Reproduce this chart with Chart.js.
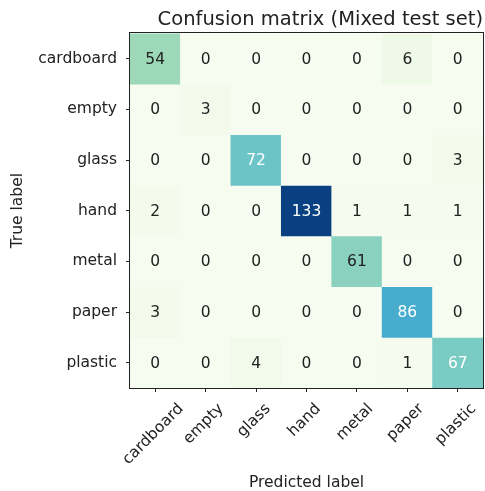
<!DOCTYPE html>
<html>
<head>
<meta charset="utf-8">
<script src="https://cdn.jsdelivr.net/npm/chart.js@4"></script>
<style>
    html, body { margin: 0; padding: 0; background: #ffffff; }
    canvas { display: block; }
</style>
</head>
<body>
<canvas id="cm" width="485" height="491"></canvas>
<script>
const classes = ['cardboard', 'empty', 'glass', 'hand', 'metal', 'paper', 'plastic'];

// one row per true label, columns are the predicted labels
const cardboardRow = [54, 0, 0, 0, 0, 6, 0];
const emptyRow = [0, 3, 0, 0, 0, 0, 0];
const glassRow = [0, 0, 72, 0, 0, 0, 3];
const handRow = [2, 0, 0, 133, 1, 1, 1];
const metalRow = [0, 0, 0, 0, 61, 0, 0];
const paperRow = [3, 0, 0, 0, 0, 86, 0];
const plasticRow = [0, 0, 4, 0, 0, 1, 67];

const rows = [cardboardRow, emptyRow, glassRow, handRow, metalRow, paperRow, plasticRow];

const FONT = "'DejaVu Sans', sans-serif";
const INK = '#222222';

// GnBu stops
const gnbu = ['#f7fcf0', '#e0f3db', '#ccebc5', '#a8ddb5', '#7bccc4', '#4eb3d3', '#2b8cbe', '#0868ac', '#084081'];

function hexToRgb(h) {
    return [parseInt(h.slice(1, 3), 16), parseInt(h.slice(3, 5), 16), parseInt(h.slice(5, 7), 16)];
}

function cmapColor(t) {
    t = Math.max(0, Math.min(1, t));
    const pos = t * (gnbu.length - 1);
    const i = Math.min(Math.floor(pos), gnbu.length - 2);
    const f = pos - i;
    const a = hexToRgb(gnbu[i]);
    const b = hexToRgb(gnbu[i + 1]);
    const c = a.map((v, k) => Math.round(v + (b[k] - v) * f));
    return `rgb(${c[0]},${c[1]},${c[2]})`;
}

const maxCount = Math.max(...rows.flat());

const datasets = rows.map((row, i) => ({
    label: classes[i],
    data: row.map(() => [i - 0.5, i + 0.5]),
    counts: row,
    backgroundColor: row.map(v => cmapColor(v / maxCount)),
    borderWidth: 0,
    grouped: false,
    barPercentage: 1,
    categoryPercentage: 1
}));

const cellText = {
    id: 'cellText',
    afterDatasetsDraw(chart) {
        const ctx = chart.ctx;
        ctx.save();
        ctx.font = `15.5px ${FONT}`;
        ctx.textAlign = 'center';
        ctx.textBaseline = 'middle';
        chart.data.datasets.forEach((ds, di) => {
            chart.getDatasetMeta(di).data.forEach((bar, j) => {
                const v = ds.counts[j];
                const p = bar.getCenterPoint();
                ctx.fillStyle = v > maxCount / 2 ? '#ffffff' : INK;
                ctx.fillText(String(v), p.x, p.y + 1);
            });
        });
        ctx.restore();
    }
};

const frameAndLabels = {
    id: 'frameAndLabels',
    afterDraw(chart) {
        const ctx = chart.ctx;
        const a = chart.chartArea;
        ctx.save();
        ctx.strokeStyle = INK;
        ctx.lineWidth = 1;
        ctx.strokeRect(Math.round(a.left) - 0.5, Math.round(a.top) - 0.5,
            Math.round(a.right - a.left) + 1, Math.round(a.bottom - a.top) + 1);

        // rotated x tick labels, centred under their ticks
        const xs = chart.scales.x;
        ctx.font = `15.5px ${FONT}`;
        ctx.fillStyle = INK;
        ctx.textAlign = 'center';
        ctx.textBaseline = 'middle';
        classes.forEach((name, i) => {
            const x = xs.getPixelForTick(i);
            const w = ctx.measureText(name).width;
            const h = 15.5;
            const boxH = (w + h) * Math.SQRT1_2;
            const cy = a.bottom + 4 + 9 + boxH / 2;
            ctx.save();
            ctx.translate(x - 2, cy);
            ctx.rotate(-Math.PI / 4);
            ctx.fillText(name, 0, 0);
            ctx.restore();
        });
        ctx.restore();
    }
};

new Chart(document.getElementById('cm'), {
    type: 'bar',
    data: {
        labels: classes,
        datasets: datasets
    },
    options: {
        responsive: false,
        animation: false,
        events: [],
        layout: { padding: { left: 0, right: 2, top: 0, bottom: 0 } },
        plugins: {
            legend: { display: false },
            tooltip: { enabled: false },
            title: {
                display: true,
                text: 'Confusion matrix (Mixed test set)',
                color: INK,
                align: 'end',
                font: { family: FONT, size: 19.5, weight: 'normal', lineHeight: 1.2 },
                padding: { top: 8, bottom: 2 }
            }
        },
        scales: {
            x: {
                type: 'category',
                offset: true,
                border: { display: false },
                grid: { offset: false, drawOnChartArea: false, drawTicks: true, tickLength: 4, color: INK },
                ticks: { display: false },
                title: {
                    display: true,
                    text: 'Predicted label',
                    color: INK,
                    font: { family: FONT, size: 15.5, lineHeight: 1 },
                    padding: { top: 0, bottom: 0 }
                },
                afterFit: scale => { scale.height = 103; }
            },
            y: {
                type: 'linear',
                min: -0.5,
                max: 6.5,
                reverse: true,
                border: { display: false },
                grid: { drawOnChartArea: false, drawTicks: true, tickLength: 4, color: INK },
                afterBuildTicks: axis => {
                    axis.ticks = classes.map((_, i) => ({ value: i }));
                },
                ticks: {
                    color: INK,
                    padding: 9,
                    font: { family: FONT, size: 15.5 },
                    callback: v => classes[v]
                },
                title: {
                    display: true,
                    text: 'True label',
                    color: INK,
                    font: { family: FONT, size: 15.5, lineHeight: 1.2 },
                    padding: { top: 9, bottom: 0 }
                },
                afterFit: scale => { scale.width = 130; }
            }
        }
    },
    plugins: [cellText, frameAndLabels]
});
</script>
</body>
</html>
